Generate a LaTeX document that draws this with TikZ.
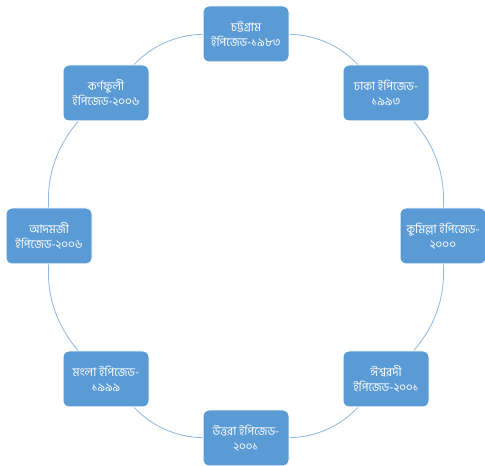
\documentclass[tikz,border=0pt]{standalone}
\usepackage{fontspec}
\usetikzlibrary{calc}
\newfontfamily\bnfont[Script=Bengali]{Hind Siliguri}
\definecolor{boxblue}{HTML}{5B9BD5}
\definecolor{ringblue}{HTML}{8FB8E0}
\begin{document}
\begin{tikzpicture}[x=1pt,y=1pt,
  epz/.style={rectangle, rounded corners=6pt, fill=boxblue, draw=white, line width=1pt,
    minimum width=86pt, minimum height=56pt, inner sep=1pt, text=white,
    font=\bnfont\fontsize{11.8}{15}\selectfont, align=center},
  ring/.style={draw=ringblue, line width=0.8pt, bend left=22.5, looseness=0.9}]
\fill[white] (0,0) rectangle (485,466);
\useasboundingbox (0,0) rectangle (485,466);
\coordinate (c) at (246,230);
\node[epz] (n1) at ($(c)+(0,202)$)       {চট্টগ্রাম\\ইপিজেড-১৯৮৩};
\node[epz] (n2) at ($(c)+(140,143)$)     {ঢাকা ইপিজেড-\\১৯৯৩};
\node[epz] (n3) at ($(c)+(197,0)$)       {কুমিল্লা ইপিজেড-\\২০০০};
\node[epz] (n4) at ($(c)+(140,-143)$)    {ঈশ্বরদী\\ইপিজেড-২০০১};
\node[epz] (n5) at ($(c)+(0,-202)$)      {উত্তরা ইপিজেড-\\২০০১};
\node[epz] (n6) at ($(c)+(-140,-143)$)   {মংলা ইপিজেড-\\১৯৯৯};
\node[epz] (n7) at ($(c)+(-197,0)$)      {আদমজী\\ইপিজেড-২০০৬};
\node[epz] (n8) at ($(c)+(-140,143)$)    {কর্ণফুলী\\ইপিজেড-২০০৬};
\draw[ring] (n1) to (n2);
\draw[ring] (n2) to (n3);
\draw[ring] (n3) to (n4);
\draw[ring] (n4) to (n5);
\draw[ring] (n5) to (n6);
\draw[ring] (n6) to (n7);
\draw[ring] (n7) to (n8);
\draw[ring] (n8) to (n1);
\end{tikzpicture}
\end{document}
